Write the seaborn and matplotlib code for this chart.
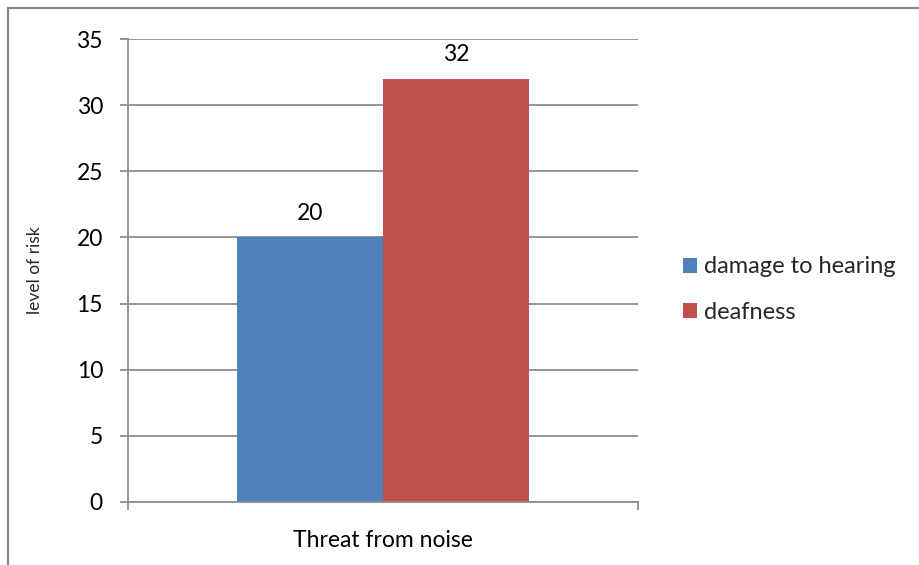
import numpy as np
import pandas as pd
import matplotlib.pyplot as plt
import seaborn as sns
from matplotlib.patches import Rectangle

# data
category = ["Threat from noise"]
series = ["damage to hearing", "deafness"]
values = [20, 32]
colors = ["#4F81BD", "#C0504D"]

df = pd.DataFrame({"category": category * len(series), "series": series, "value": values})

sns.set_theme(style="white")
plt.rcParams['font.family'] = ['Lato', 'DejaVu Sans']

fig = plt.figure(figsize=(9.2, 5.65), dpi=100)
ax = fig.add_axes([128 / 920, 1 - 502 / 565, 510 / 920, 463 / 565])

sns.barplot(data=df, x="category", y="value", hue="series", palette=colors,
            width=0.573, gap=0, saturation=1, linewidth=0, ax=ax, legend=True)

# bar value labels
for cont in ax.containers:
    ax.bar_label(cont, padding=10, fontsize=16.5, color="#000000")

ax.set_xlim(-0.5, 0.5)
ax.set_ylim(0, 35)
ax.set_yticks(np.arange(0, 36, 5))
ax.set_xlabel("")
ax.set_ylabel("level of risk", fontsize=12.5, labelpad=24)
ax.yaxis.grid(True, color="#8C8C8C", lw=1.3)
ax.set_axisbelow(True)

for s in ["top", "right"]:
    ax.spines[s].set_visible(False)
for s in ["left", "bottom"]:
    ax.spines[s].set_color("#8C8C8C")
    ax.spines[s].set_linewidth(1.3)

ax.tick_params(axis="y", left=True, length=6, width=1.3, color="#8C8C8C",
               labelsize=16.5, pad=12, labelcolor="#000000")
ax.set_xticks([-0.5, 0.5], minor=True)
ax.tick_params(axis="x", which="minor", bottom=True, length=6, width=1.3, color="#8C8C8C")
ax.tick_params(axis="x", which="major", bottom=False, labelsize=16.5, pad=14, labelcolor="#000000")

# legend outside on the right
handles, labels = ax.get_legend_handles_labels()
ax.get_legend().remove()
fig.legend(handles, labels, loc="center left", bbox_to_anchor=(0.742, 0.487),
           frameon=False, fontsize=17, handlelength=0.6, handleheight=0.6,
           handletextpad=0.3, labelspacing=1.05, borderpad=0, borderaxespad=0)

# outer chart border
fig.patches.append(Rectangle((8 / 920, -0.1), 1.2, 1 - 8 / 565 + 0.1,
                             transform=fig.transFigure, fill=False,
                             edgecolor="#898989", lw=1.6))

fig.savefig("out.png", dpi=100)
